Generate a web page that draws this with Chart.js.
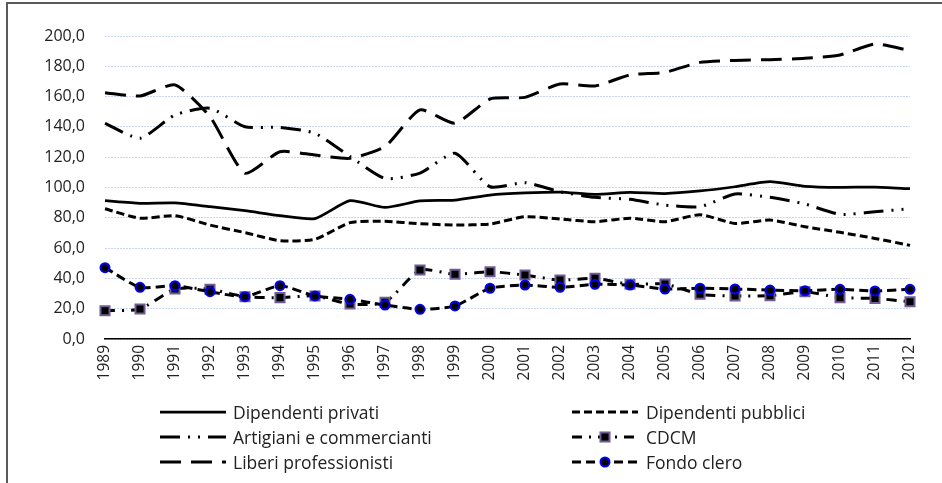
<!DOCTYPE html>
<html>
<head>
<meta charset="utf-8">
<script src="https://cdn.jsdelivr.net/npm/chart.js@4.4.1/dist/chart.umd.min.js"></script>
<style>
  html, body { margin: 0; padding: 0; background: #fff; }
  #wrap { position: relative; width: 942px; height: 483px; overflow: hidden; font-family: "Open Sans", sans-serif; color: #222; }
  #frame { position: absolute; left: 6px; top: 2px; right: -4px; bottom: -4px; border-top: 2px solid #5a5a5a; border-left: 2px solid #5a5a5a; }
  #chart { position: absolute; left: 0; top: 0; }
  .lg { position: absolute; display: flex; align-items: center; font-size: 17.5px; line-height: 22px; white-space: nowrap; }
</style>
</head>
<body>
<div id="wrap">
  <div id="frame"></div>
  <canvas id="chart" width="942" height="483"></canvas>
  <div id="legend"></div>
</div>
<script>
const years = ['1989','1990','1991','1992','1993','1994','1995','1996','1997','1998','1999','2000',
               '2001','2002','2003','2004','2005','2006','2007','2008','2009','2010','2011','2012'];

const privati   = [91.3, 89.6, 89.8, 87.3, 84.7, 81.4, 79.5, 91.3, 86.8, 91.1, 91.7, 95.0,
                   96.4, 97.0, 95.5, 96.8, 96.0, 97.7, 100.5, 103.8, 100.8, 100.1, 100.3, 99.2];
const pubblici  = [86.0, 79.7, 81.4, 75.2, 70.2, 64.9, 65.8, 76.8, 77.7, 76.1, 75.2, 75.9,
                   80.7, 79.2, 77.4, 79.7, 77.4, 82.0, 76.3, 78.5, 74.1, 70.4, 66.4, 61.8];
const artigiani = [142.4, 132.5, 147.9, 152.3, 140.1, 139.7, 135.8, 120.5, 106.0, 109.5, 122.6, 100.5,
                   103.2, 97.2, 93.5, 92.2, 88.4, 87.3, 95.7, 93.5, 89.1, 82.3, 84.0, 86.0];
const cdcm      = [18.7, 19.8, 33.0, 32.8, 27.9, 27.3, 28.4, 23.1, 24.2, 45.5, 42.7, 44.4,
                   42.2, 38.9, 40.0, 36.1, 36.3, 29.5, 28.4, 28.6, 31.2, 27.3, 26.8, 24.6];
const liberi    = [162.6, 160.4, 167.7, 146.7, 109.4, 123.6, 121.4, 119.3, 127.0, 151.2, 142.4, 158.4,
                   159.5, 168.3, 167.0, 174.3, 176.0, 182.6, 183.9, 184.4, 185.3, 187.5, 194.7, 190.3];
const clero     = [47.1, 34.1, 35.2, 31.2, 27.9, 35.2, 28.4, 26.2, 22.4, 19.6, 21.8, 33.5,
                   35.6, 34.1, 36.1, 35.6, 33.0, 33.5, 33.0, 32.3, 31.9, 32.8, 31.7, 32.8];

const yTicks = [0, 20, 40, 60, 80, 100, 120, 140, 160, 180, 200];

// legend layout follows Excel: left column, right column, row by row
const series = [
  { label: 'Dipendenti privati',        data: privati,   dash: [],                   width: 2.75, col: 0, row: 0, order: 6 },
  { label: 'Dipendenti pubblici',       data: pubblici,  dash: [8, 4],               width: 3,    col: 1, row: 0, order: 5 },
  { label: 'Artigiani e commercianti',  data: artigiani, dash: [20, 8, 2, 8, 2, 8],  width: 3,    col: 0, row: 1, order: 4 },
  { label: 'CDCM',                      data: cdcm,      dash: [10, 7, 2, 7],        width: 3,    col: 1, row: 1, order: 2,
    point: { style: 'rect', radius: 6.4, fill: '#000', border: '#6f5c94', bw: 2 } },
  { label: 'Liberi professionisti',     data: liberi,    dash: [21, 10],             width: 3,    col: 0, row: 2, order: 3 },
  { label: 'Fondo clero',               data: clero,     dash: [9, 5],               width: 3,    col: 1, row: 2, order: 1,
    point: { style: 'circle', radius: 4.5, fill: '#000', border: '#0000ff', bw: 2 } }
];

const datasets = series.map(s => ({
  label: s.label,
  data: s.data,
  borderColor: '#000',
  backgroundColor: '#000',
  borderWidth: s.width,
  borderDash: s.dash,
  borderCapStyle: 'butt',
  tension: 0.2,
  order: s.order,
  pointStyle: s.point ? s.point.style : 'circle',
  pointRadius: s.point ? s.point.radius : 0,
  pointBackgroundColor: s.point ? s.point.fill : '#000',
  pointBorderColor: s.point ? s.point.border : '#000',
  pointBorderWidth: s.point ? s.point.bw : 0,
  pointHoverRadius: s.point ? s.point.radius : 0
}));

new Chart(document.getElementById('chart'), {
  type: 'line',
  data: { labels: years, datasets: datasets },
  options: {
    responsive: false,
    animation: false,
    layout: { padding: { left: 0, right: 32, top: 36, bottom: 84 } },
    plugins: { legend: { display: false }, tooltip: { enabled: false } },
    scales: {
      x: {
        offset: false,
        grid: { display: false, drawTicks: false },
        border: { display: true, color: '#000', width: 1.5 },
        ticks: { color: '#222', font: { family: 'Open Sans', size: 15.5 }, minRotation: 90, maxRotation: 90, padding: 6, autoSkip: false },
        afterFit: (s) => { s.height = 60; }
      },
      y: {
        min: 0, max: 200,
        afterBuildTicks: (s) => { s.ticks = yTicks.map(v => ({ value: v })); },
        grid: { color: '#c9d5ee', lineWidth: 1, drawTicks: false },
        border: { display: false, dash: [2, 1] },
        ticks: { color: '#222', font: { family: 'Open Sans', size: 16 }, padding: 20,
                 callback: (v) => v.toFixed(1).replace('.', ',') },
        afterFit: (s) => { s.width = 105; }
      }
    }
  }
});

// HTML legend with small svg line samples that reuse the dataset styles
const legendEl = document.getElementById('legend');
const colX = [[160, 233], [572, 646]];
const rowY = [412, 437, 462];
series.forEach(s => {
  const w = 66;
  const item = document.createElement('div');
  item.className = 'lg';
  item.style.left = colX[s.col][0] + 'px';
  item.style.top = (rowY[s.row] - 11) + 'px';
  let svg = `<svg width="${w}" height="22" viewBox="0 0 ${w} 22">` +
    `<line x1="0" y1="11" x2="${w}" y2="11" stroke="#000" stroke-width="${s.width}"` +
    (s.dash.length ? ` stroke-dasharray="${s.dash.join(' ')}"` : '') + `/>`;
  if (s.point) {
    const p = s.point;
    if (p.style === 'rect') {
      const h = p.radius * Math.SQRT1_2;
      svg += `<rect x="${w / 2 - h}" y="${11 - h}" width="${2 * h}" height="${2 * h}" fill="${p.fill}" stroke="${p.border}" stroke-width="${p.bw}"/>`;
    } else {
      svg += `<circle cx="${w / 2}" cy="11" r="${p.radius}" fill="${p.fill}" stroke="${p.border}" stroke-width="${p.bw}"/>`;
    }
  }
  svg += '</svg>';
  item.innerHTML = svg + `<span>${s.label}</span>`;
  item.querySelector('svg').style.marginRight = (colX[s.col][1] - colX[s.col][0] - w) + 'px';
  legendEl.appendChild(item);
});
</script>
</body>
</html>
